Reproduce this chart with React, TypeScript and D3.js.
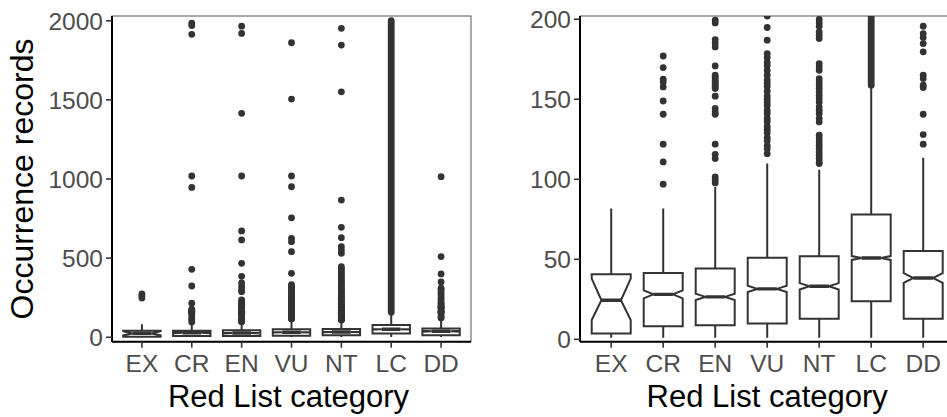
import * as d3 from "d3";

const categories = ["EX", "CR", "EN", "VU", "NT", "LC", "DD"];
const whiskerLow = [1, 1, 1, 1, 1, 1, 1];
const q1 = [3.6, 8.1, 8.75, 9.8, 12.9, 23.75, 12.9];
const notchLow = [12, 25.6, 24.5, 29.5, 31.1, 49.6, 35.2];
const medians = [24.4, 28.1, 26.5, 31.5, 33.1, 50.8, 38.3];
const notchHigh = [37.9, 30.6, 28.5, 33.5, 35.1, 52, 41.4];
const q3 = [40.6, 41.4, 44.2, 51, 51.9, 77.9, 55.2];
const whiskerHigh = [81.7, 81.7, 95.2, 109.8, 106, 158.75, 113.5];

// individual outliers per category (same order as categories)
const outliers: number[][] = [
  [248, 262, 274],
  [96.9, 110.8, 121.9, 140.6, 148.9, 157.7, 160.8, 162.5, 169.8, 177, 215, 324, 429, 947, 1019, 1914, 1970, 1985],
  [97.7, 99.4, 101.4, 112.9, 115.6, 121.9, 140.6, 142, 144.2, 151.9, 156.7, 157.5, 158.75, 159.5, 160.8, 161.5,
    162.9, 164, 165, 170.8, 182.7, 185.2, 187.3, 197.7, 199.4, 205, 210, 218, 225, 236, 288, 300, 320, 343, 385,
    467, 615, 672, 1019, 1415, 1920, 1966],
  [116, 119, 121, 124, 126, 129, 131, 133, 136, 138, 141, 143, 146, 148, 150, 152, 155, 158, 160, 162, 165, 168,
    171, 173, 176, 178.5, 186.9, 194.8, 202, 208, 215, 222, 230, 238, 246, 255, 265, 275, 285, 295, 305, 315, 325,
    332, 404, 541, 604, 625, 755, 951, 1019, 1505, 1861],
  [109.8, 110.8, 112.9, 115, 117.1, 119.2, 121.3, 123.3, 125.4, 127.5, 135.8, 137.9, 141, 143.1, 145.2, 148.3,
    150.4, 152.5, 154.6, 156.7, 158.75, 160.8, 162.9, 168.1, 170.2, 172.3, 187.9, 190, 192, 195.6, 197.7, 199.8,
    205, 210, 216, 223, 230, 238, 246, 255, 264, 273, 282, 292, 302, 312, 322, 333, 345, 356, 368, 380, 392, 405,
    418, 432, 446, 531, 551, 572, 629, 695, 867, 1551, 1846, 1952],
  [],
  [121.9, 127.9, 140.6, 157.3, 158.75, 162.9, 165, 179.6, 184.8, 188.6, 191, 195.6, 205, 215, 225, 240, 255, 270,
    285, 300, 310, 350, 400, 510, 1015],
];

// runs where outliers are so many that they merge into a solid column
const denseCategory = ["LC"];
const denseFrom = [158.75];
const denseTo = [2000];

const leftTicks = [0, 500, 1000, 1500, 2000];
const rightTicks = [0, 50, 100, 150, 200];

const font = "'Liberation Sans', Arial, sans-serif";
const ink = "#333333";

type PanelProps = {
  id: string;
  x0: number;
  x1: number;
  yDomain: [number, number];
  ticks: number[];
  titleShift: number;
};

function Panel({ id, x0, x1, yDomain, ticks, titleShift }: PanelProps) {
  const top = 16;
  const bottom = 341.7;
  const x = d3.scaleBand<string>().domain(categories).range([x0, x1]).paddingInner(0).paddingOuter(0.1);
  const y = d3.scaleLinear().domain(yDomain).range([bottom, top]);
  const bw = x.bandwidth() * 0.75;
  const ind = bw / 4;
  const r = 3.4;
  const lw = 2;

  return (
    <g>
      <defs>
        <clipPath id={id}>
          <rect x={x0} y={top} width={x1 - x0} height={bottom - top} />
        </clipPath>
      </defs>
      <rect x={x0} y={top} width={x1 - x0} height={bottom - top} fill="#fff" stroke="#555" strokeWidth={1} />
      <g clipPath={`url(#${id})`}>
        {categories.map((c, i) => {
          const cx = x(c)! + x.bandwidth() / 2;
          const l = cx - bw / 2;
          const rr = cx + bw / 2;
          const box = d3.path();
          box.moveTo(l, y(q3[i]));
          box.lineTo(l, y(notchHigh[i]));
          box.lineTo(l + ind, y(medians[i]));
          box.lineTo(l, y(notchLow[i]));
          box.lineTo(l, y(q1[i]));
          box.lineTo(rr, y(q1[i]));
          box.lineTo(rr, y(notchLow[i]));
          box.lineTo(rr - ind, y(medians[i]));
          box.lineTo(rr, y(notchHigh[i]));
          box.lineTo(rr, y(q3[i]));
          box.closePath();
          return (
            <g key={c}>
              <line x1={cx} x2={cx} y1={y(q3[i])} y2={y(whiskerHigh[i])} stroke={ink} strokeWidth={lw} />
              <line x1={cx} x2={cx} y1={y(q1[i])} y2={y(whiskerLow[i])} stroke={ink} strokeWidth={lw} />
              <path d={box.toString()} fill="#fff" stroke={ink} strokeWidth={lw} />
              <line x1={l + ind} x2={rr - ind} y1={y(medians[i])} y2={y(medians[i])} stroke={ink} strokeWidth={3.4} />
              {outliers[i].map((v, k) => (
                <circle key={k} cx={cx} cy={y(v)} r={r} fill={ink} />
              ))}
            </g>
          );
        })}
        {denseCategory.map((c, k) => {
          const cx = x(c)! + x.bandwidth() / 2;
          return (
            <line key={c} x1={cx} x2={cx} y1={y(denseFrom[k])} y2={y(denseTo[k])}
              stroke={ink} strokeWidth={r * 2} strokeLinecap="round" />
          );
        })}
      </g>
      <line x1={x0} x2={x0} y1={top} y2={bottom} stroke="#000" strokeWidth={2} />
      <line x1={x0} x2={x1} y1={bottom} y2={bottom} stroke="#000" strokeWidth={2} />
      {ticks.map((t) => (
        <g key={t}>
          <line x1={x0 - 6} x2={x0} y1={y(t)} y2={y(t)} stroke={ink} strokeWidth={1.6} />
          <text x={x0 - 9} y={y(t)} dy="0.36em" textAnchor="end" fontFamily={font} fontSize={24.5} fill="#4d4d4d">
            {t}
          </text>
        </g>
      ))}
      {categories.map((c) => {
        const cx = x(c)! + x.bandwidth() / 2;
        return (
          <g key={c}>
            <line x1={cx} x2={cx} y1={bottom} y2={bottom + 6} stroke={ink} strokeWidth={1.6} />
            <text x={cx} y={371.5} textAnchor="middle" fontFamily={font} fontSize={24.5} fill="#4d4d4d">
              {c}
            </text>
          </g>
        );
      })}
      <text x={(x0 + x1) / 2 + titleShift} y={407} textAnchor="middle" fontFamily={font} fontSize={31} fill="#000">
        Red List category
      </text>
    </g>
  );
}

export default function App() {
  return (
    <svg width={947} height={417} style={{ position: "absolute", left: 0, top: 0, background: "#fff" }}>
      <rect width={947} height={417} fill="#fff" />
      <text transform="translate(33,179) rotate(-90)" textAnchor="middle" fontFamily={font} fontSize={32} fill="#000">
        Occurrence records
      </text>
      <Panel id="clipLeft" x0={112} x1={471} yDomain={[-28, 2030]} ticks={leftTicks} titleShift={-3} />
      <Panel id="clipRight" x0={580} x1={954.4} yDomain={[-1.5, 202]} ticks={rightTicks} titleShift={0} />
    </svg>
  );
}
